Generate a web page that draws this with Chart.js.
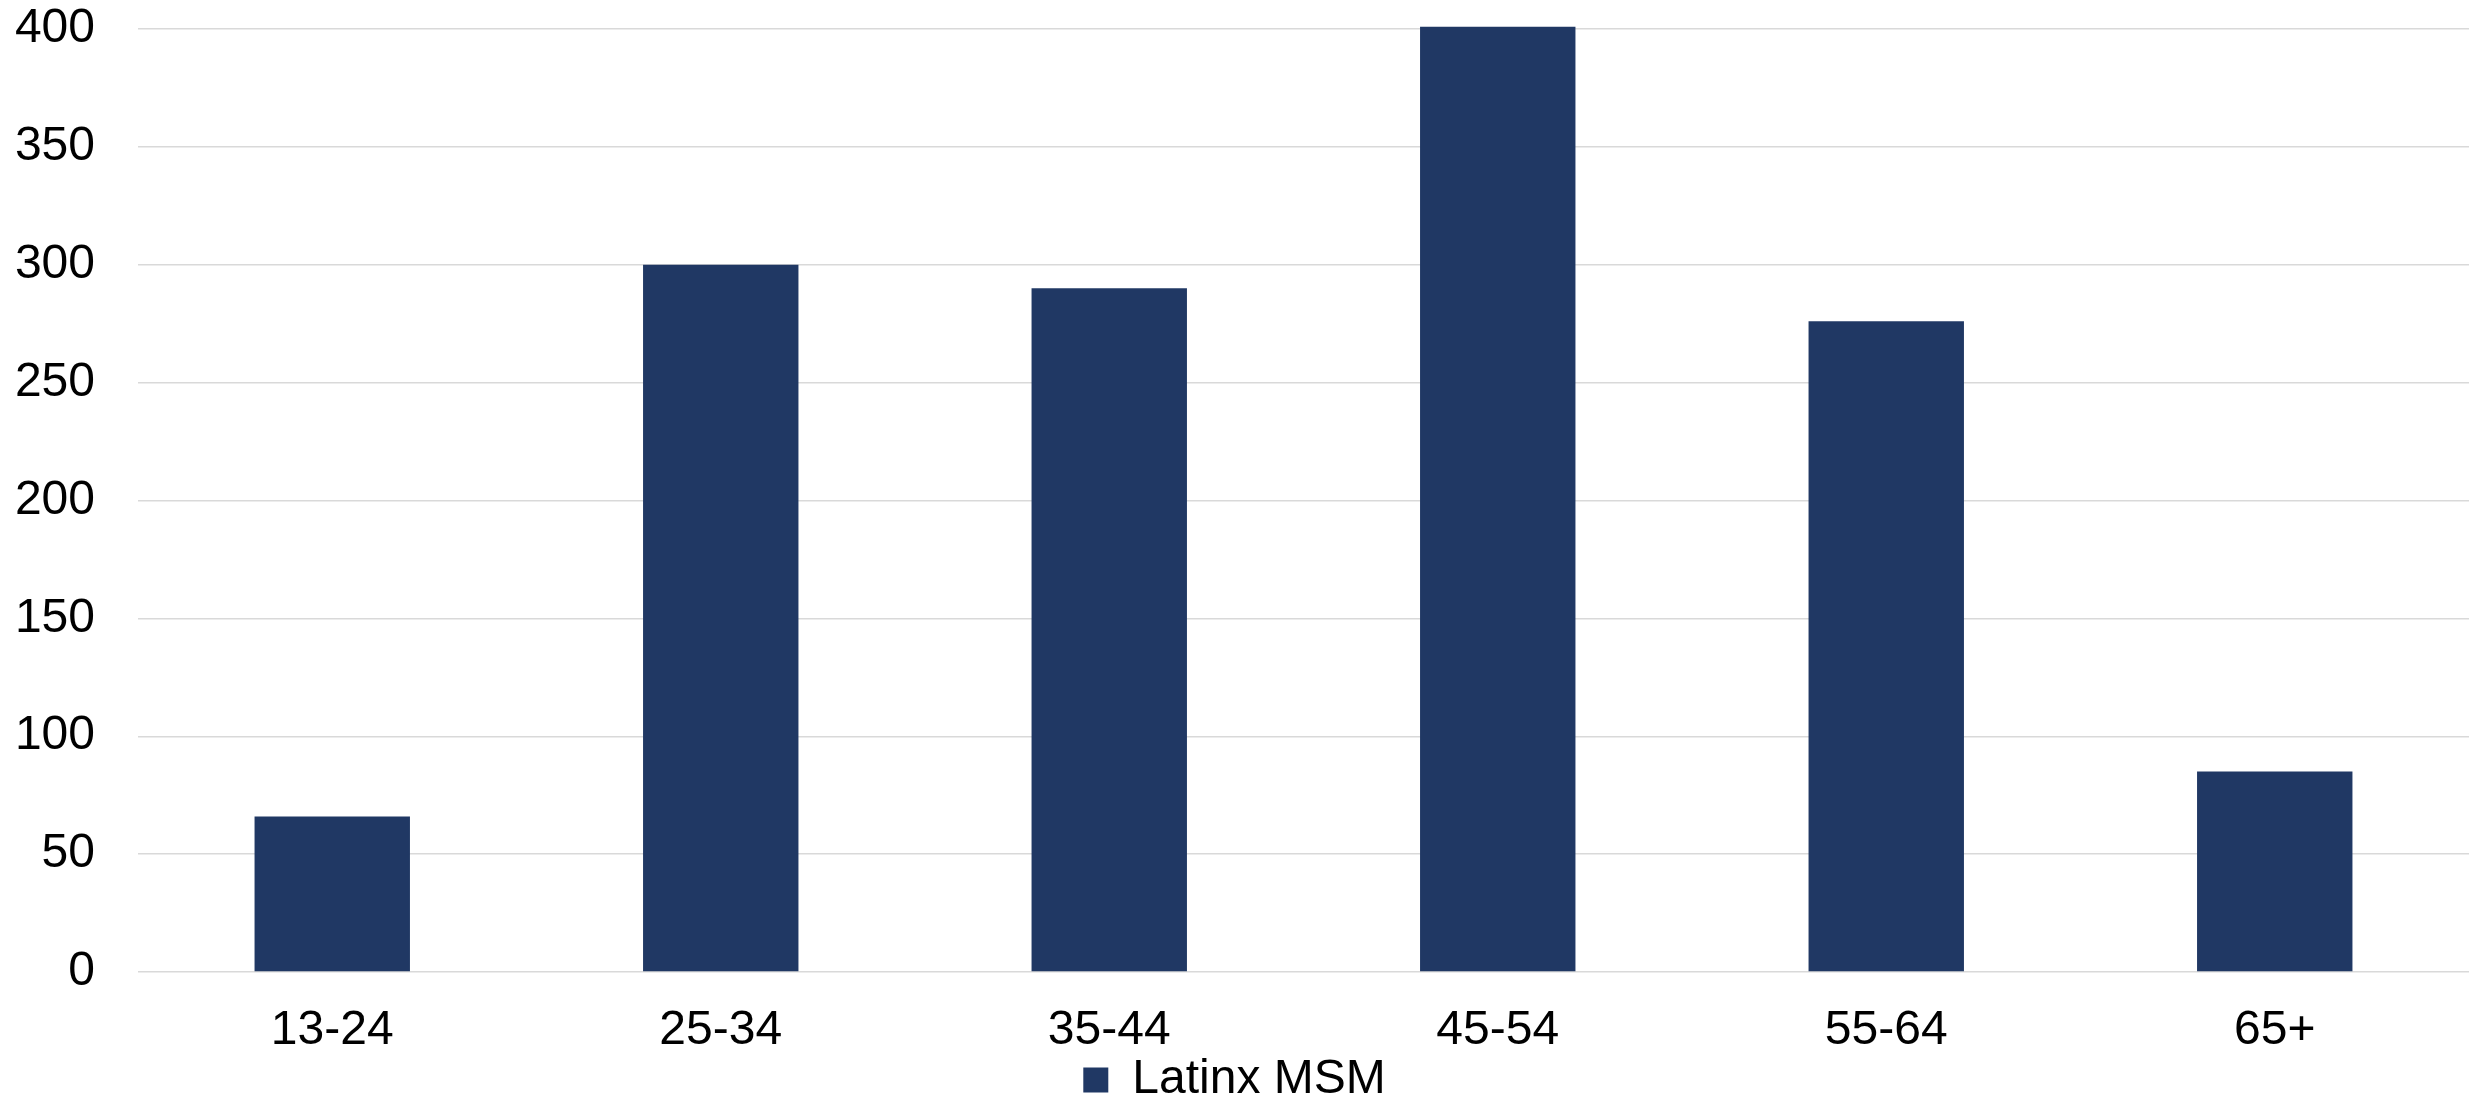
<!DOCTYPE html>
<html>
<head>
<meta charset="utf-8">
<script src="https://cdn.jsdelivr.net/npm/chart.js@4/dist/chart.umd.min.js"></script>
<style>
  html, body { margin:0; padding:0; background:#fff; }
  #wrap { width:2481px; height:1094px; position:relative; }
</style>
</head>
<body>
<div id="wrap"><canvas id="chart"></canvas></div>
<script>
const ageGroups = ["13-24", "25-34", "35-44", "45-54", "55-64", "65+"];
const latinxMsm = [66, 300, 290, 401, 276, 85];
const seriesName = "Latinx MSM";
const barColor = "#203864";

Chart.defaults.font.family = "'Liberation Sans', Arial, sans-serif";
Chart.defaults.color = "#000";

new Chart(document.getElementById("chart"), {
  type: "bar",
  data: {
    labels: ageGroups,
    datasets: [{
      label: seriesName,
      data: latinxMsm,
      backgroundColor: barColor,
      borderWidth: 0,
      categoryPercentage: 1,
      barPercentage: 0.4,
      clip: false
    }]
  },
  options: {
    responsive: true,
    maintainAspectRatio: false,
    animation: false,
    layout: { padding: { left: 0, right: 12, top: 0, bottom: -20 } },
    plugins: {
      tooltip: { enabled: false },
      legend: {
        position: "bottom",
        labels: {
          font: { size: 48 },
          boxWidth: 25,
          boxHeight: 25,
          padding: 4
        }
      }
    },
    scales: {
      x: {
        grid: { display: false, drawTicks: false },
        border: { display: false },
        ticks: { font: { size: 48 }, padding: 30, maxRotation: 0 },
        afterFit: (s) => { s.height = 80; }
      },
      y: {
        min: 0,
        max: 400,
        grid: { color: "#d9d9d9", lineWidth: 1.5, drawTicks: false },
        border: { display: false },
        ticks: { stepSize: 50, font: { size: 48 }, padding: 43 },
        afterFit: (s) => { s.width = 138; s.paddingTop = 29; s.paddingBottom = 0; }
      }
    }
  }
});
</script>
</body>
</html>
